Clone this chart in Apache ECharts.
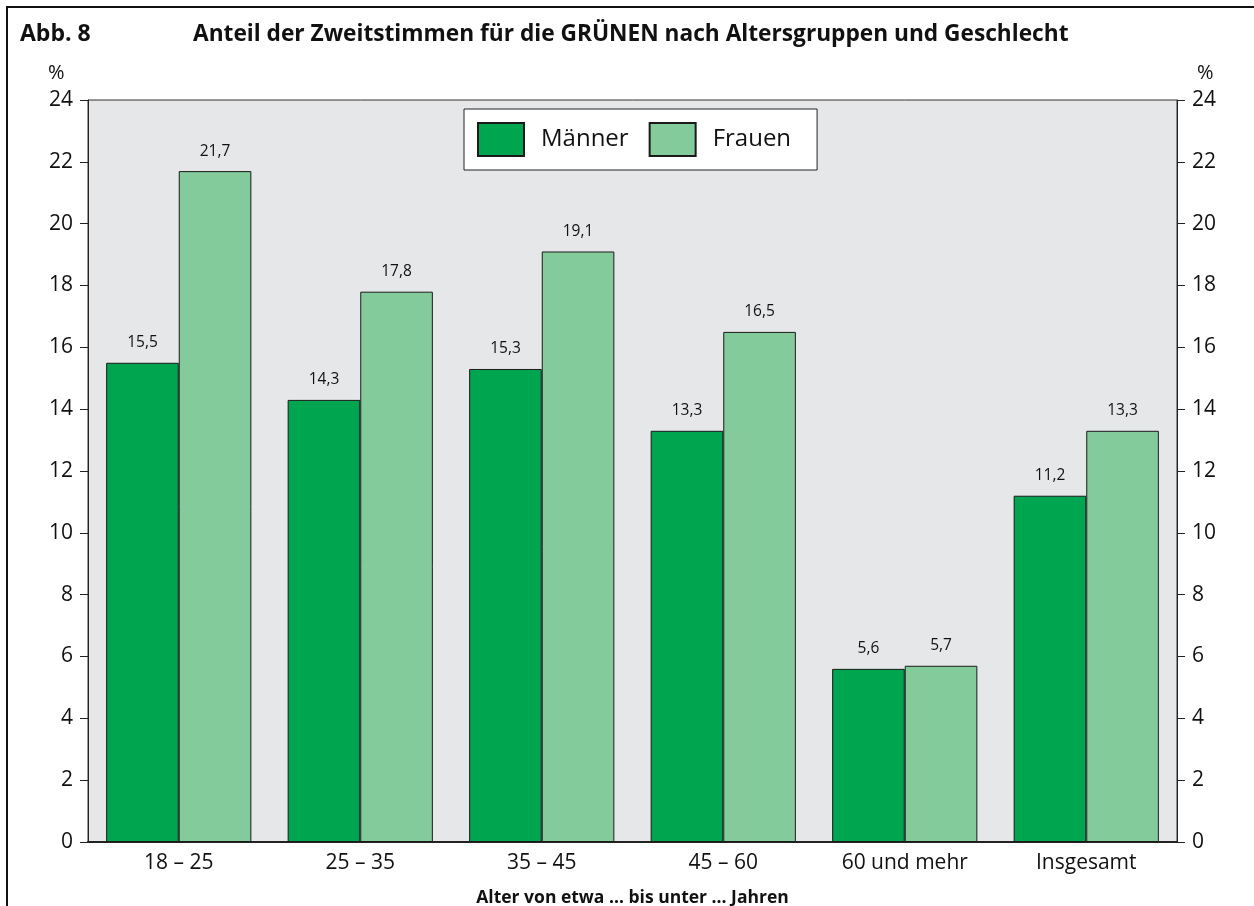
<!DOCTYPE html>
<html>
<head>
<meta charset="utf-8">
<script src="https://cdn.jsdelivr.net/npm/echarts@6/dist/echarts.min.js"></script>
<style>
  html, body { margin: 0; padding: 0; background: #fff; }
  #chart { width: 1254px; height: 906px; }
</style>
</head>
<body>
<div id="chart"></div>
<script>
const categories = ['18 – 25', '25 – 35', '35 – 45', '45 – 60', '60 und mehr', 'Insgesamt']
const maenner = [15.5, 14.3, 15.3, 13.3, 5.6, 11.2]
const frauen = [21.7, 17.8, 19.1, 16.5, 5.7, 13.3]
const seriesNames = ['Männer', 'Frauen']

const font = 'Open Sans'
const fmt = v => String(v.value).replace('.', ',')

const yAxisBase = {
  type: 'value',
  min: 0,
  max: 24,
  interval: 2,
  splitLine: { show: false },
  axisLine: { show: true, lineStyle: { color: '#222', width: 1 } },
  axisTick: { show: true, length: 8, lineStyle: { color: '#222' } },
  axisLabel: { color: '#111', fontSize: 21, fontFamily: font, margin: 15 }
}

const barLabel = {
  show: true,
  position: 'top',
  distance: 12,
  color: '#111',
  fontSize: 15.5,
  fontFamily: font,
  formatter: fmt
}

const chart = echarts.init(document.getElementById('chart'), null, { renderer: 'canvas' })
chart.setOption({
  animation: false,
  textStyle: { fontFamily: font },
  graphic: [
    { type: 'rect', shape: { x: 7, y: 7, width: 1260, height: 920 }, style: { fill: 'none', stroke: '#111', lineWidth: 2 } },
    { type: 'text', left: 20, top: 23, style: { text: 'Abb. 8', font: 'bold 23px "Open Sans"', fill: '#111' } },
    { type: 'text', left: 193, top: 23, style: { text: 'Anteil der Zweitstimmen für die GRÜNEN nach Altersgruppen und Geschlecht', font: 'bold 22.7px "Open Sans"', fill: '#111' } },
    { type: 'text', left: 48, top: 63, style: { text: '%', font: '20px "Open Sans"', fill: '#111' } },
    { type: 'text', left: 1197, top: 63, style: { text: '%', font: '20px "Open Sans"', fill: '#111' } }
  ],
  grid: {
    left: 88,
    right: 77,
    top: 100,
    bottom: 64,
    outerBoundsMode: 'none',
    containLabel: false,
    show: true,
    backgroundColor: '#e6e7e9',
    borderColor: '#333',
    borderWidth: 1
  },
  legend: {
    data: seriesNames,
    icon: 'rect',
    left: 464,
    top: 109,
    padding: [13, 26, 13, 13],
    backgroundColor: '#fff',
    borderColor: '#222',
    borderWidth: 1,
    itemWidth: 46,
    itemHeight: 33,
    itemGap: 20,
    textStyle: { fontSize: 24, color: '#111', fontFamily: font, padding: [0, 0, 0, 12] }
  },
  xAxis: {
    type: 'category',
    data: categories,
    name: 'Alter von etwa ... bis unter ... Jahren',
    nameLocation: 'middle',
    nameGap: 47,
    nameTextStyle: { fontSize: 17.5, fontWeight: 'bold', color: '#111', fontFamily: font },
    axisLine: { lineStyle: { color: '#222', width: 2 } },
    axisTick: { show: false },
    axisLabel: { color: '#111', fontSize: 21, fontFamily: font, margin: 11 }
  },
  yAxis: [
    Object.assign({}, yAxisBase, { position: 'left' }),
    Object.assign({}, yAxisBase, { position: 'right' })
  ],
  series: [
    {
      name: seriesNames[0],
      type: 'bar',
      data: maenner,
      barGap: '0%',
      barCategoryGap: '20%',
      itemStyle: { color: '#00a54f', borderColor: '#1a1a1a', borderWidth: 1 },
      label: barLabel
    },
    {
      name: seriesNames[1],
      type: 'bar',
      data: frauen,
      itemStyle: { color: '#84cb9c', borderColor: '#1a1a1a', borderWidth: 1 },
      label: barLabel
    }
  ]
})
</script>
</body>
</html>
